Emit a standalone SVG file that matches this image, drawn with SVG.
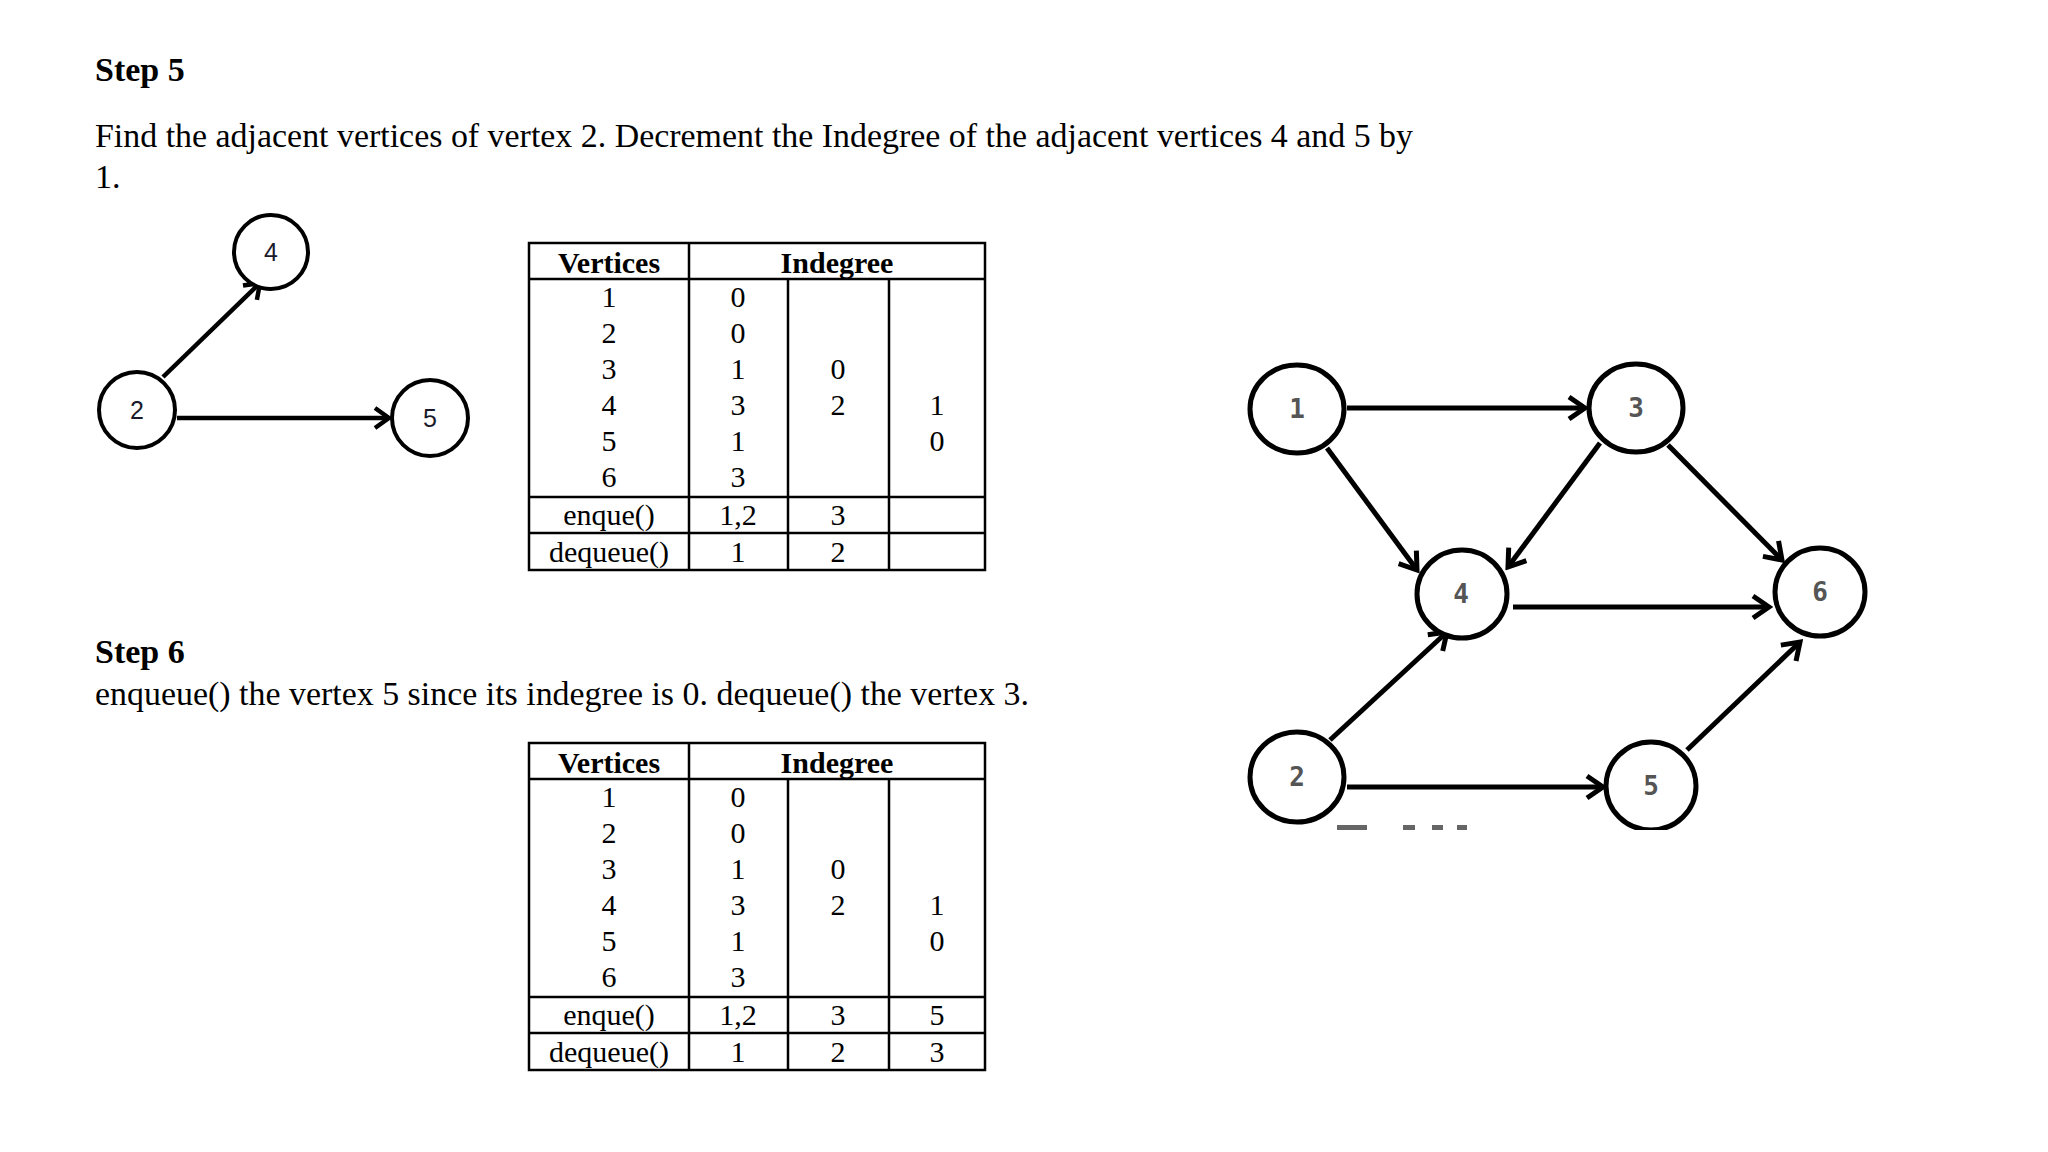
<svg xmlns="http://www.w3.org/2000/svg" width="2048" height="1152" viewBox="0 0 2048 1152">
<style>
.body{font-family:"Liberation Serif","Times New Roman",serif;font-size:34px;fill:#000}
.head{font-family:"Liberation Serif","Times New Roman",serif;font-size:34px;font-weight:bold;fill:#000}
.tt{font-family:"Liberation Serif","Times New Roman",serif;font-size:30px;fill:#000;text-anchor:middle}
.th{font-family:"Liberation Serif","Times New Roman",serif;font-size:30px;font-weight:bold;fill:#000;text-anchor:middle}
.grid{stroke:#000;stroke-width:2.5;fill:none}
.sn{fill:#fff;stroke:#000;stroke-width:4}
.sl{font-family:"Liberation Sans",Arial,sans-serif;font-size:25px;fill:#1a1a2a;text-anchor:middle}
.se{stroke:#000;stroke-width:4.5;fill:none}
.bn{fill:#fff;stroke:#000;stroke-width:5}
.bl{font-family:"DejaVu Sans Mono",monospace;font-size:26px;font-weight:bold;fill:#555;text-anchor:middle}
.be{stroke:#000;stroke-width:5;fill:none}
</style>
<defs>
<marker id="sa" markerUnits="userSpaceOnUse" viewBox="-18 -12 20 24" refX="0" refY="0" markerWidth="20" markerHeight="24" orient="auto">
<path d="M-14,-10 L0,0 L-14,10" fill="none" stroke="#000" stroke-width="4.5" stroke-linejoin="miter"/>
</marker>
<marker id="ba" markerUnits="userSpaceOnUse" viewBox="-20 -14 24 28" refX="0" refY="0" markerWidth="24" markerHeight="28" orient="auto">
<path d="M-16,-11 L0,0 L-16,11" fill="none" stroke="#000" stroke-width="5" stroke-linejoin="miter"/>
</marker>
<clipPath id="bigclip"><rect x="1200" y="330" width="720" height="500"/></clipPath>
</defs>
<rect width="2048" height="1152" fill="#fff"/>

<g id="texts">
<text class="head" x="95" y="81">Step 5</text>
<text class="body" x="95" y="147" textLength="1318" lengthAdjust="spacingAndGlyphs">Find the adjacent vertices of vertex 2. Decrement the Indegree of the adjacent vertices 4 and 5 by</text>
<text class="body" x="95" y="188">1.</text>
<text class="head" x="95" y="663">Step 6</text>
<text class="body" x="95" y="705" textLength="934" lengthAdjust="spacingAndGlyphs">enqueue() the vertex 5 since its indegree is 0. dequeue() the vertex 3.</text>
</g>

<!-- small graph -->
<g id="small-connectors">
<line class="se" x1="163" y1="377" x2="260" y2="283" marker-end="url(#sa)"/>
<line class="se" x1="177" y1="418" x2="389" y2="418" marker-end="url(#sa)"/>
</g>
<g id="s-node-4"><circle class="sn" cx="271" cy="252" r="37"/><text class="sl" x="271" y="261">4</text></g>
<g id="s-node-2"><circle class="sn" cx="137" cy="410" r="38"/><text class="sl" x="137" y="419">2</text></g>
<g id="s-node-5"><circle class="sn" cx="430" cy="418" r="38"/><text class="sl" x="430" y="427">5</text></g>

<!-- table 1 -->
<g id="table-1">
<rect class="grid" x="529" y="243" width="456" height="327"/>
<line class="grid" x1="529" y1="279" x2="985" y2="279"/>
<line class="grid" x1="529" y1="497" x2="985" y2="497"/>
<line class="grid" x1="529" y1="533" x2="985" y2="533"/>
<line class="grid" x1="689" y1="243" x2="689" y2="570"/>
<line class="grid" x1="788" y1="279" x2="788" y2="570"/>
<line class="grid" x1="889" y1="279" x2="889" y2="570"/>
<text class="th" x="609" y="273">Vertices</text>
<text class="th" x="837" y="273">Indegree</text>
<text class="tt" x="609" y="307">1</text><text class="tt" x="738" y="307">0</text>
<text class="tt" x="609" y="343">2</text><text class="tt" x="738" y="343">0</text>
<text class="tt" x="609" y="379">3</text><text class="tt" x="738" y="379">1</text><text class="tt" x="838" y="379">0</text>
<text class="tt" x="609" y="415">4</text><text class="tt" x="738" y="415">3</text><text class="tt" x="838" y="415">2</text><text class="tt" x="937" y="415">1</text>
<text class="tt" x="609" y="451">5</text><text class="tt" x="738" y="451">1</text><text class="tt" x="937" y="451">0</text>
<text class="tt" x="609" y="487">6</text><text class="tt" x="738" y="487">3</text>
<text class="tt" x="609" y="525">enque()</text><text class="tt" x="738" y="525">1,2</text><text class="tt" x="838" y="525">3</text>
<text class="tt" x="609" y="562">dequeue()</text><text class="tt" x="738" y="562">1</text><text class="tt" x="838" y="562">2</text>
</g>

<!-- table 2 -->
<g id="table-2">
<rect class="grid" x="529" y="743" width="456" height="327"/>
<line class="grid" x1="529" y1="779" x2="985" y2="779"/>
<line class="grid" x1="529" y1="997" x2="985" y2="997"/>
<line class="grid" x1="529" y1="1033" x2="985" y2="1033"/>
<line class="grid" x1="689" y1="743" x2="689" y2="1070"/>
<line class="grid" x1="788" y1="779" x2="788" y2="1070"/>
<line class="grid" x1="889" y1="779" x2="889" y2="1070"/>
<text class="th" x="609" y="773">Vertices</text>
<text class="th" x="837" y="773">Indegree</text>
<text class="tt" x="609" y="807">1</text><text class="tt" x="738" y="807">0</text>
<text class="tt" x="609" y="843">2</text><text class="tt" x="738" y="843">0</text>
<text class="tt" x="609" y="879">3</text><text class="tt" x="738" y="879">1</text><text class="tt" x="838" y="879">0</text>
<text class="tt" x="609" y="915">4</text><text class="tt" x="738" y="915">3</text><text class="tt" x="838" y="915">2</text><text class="tt" x="937" y="915">1</text>
<text class="tt" x="609" y="951">5</text><text class="tt" x="738" y="951">1</text><text class="tt" x="937" y="951">0</text>
<text class="tt" x="609" y="987">6</text><text class="tt" x="738" y="987">3</text>
<text class="tt" x="609" y="1025">enque()</text><text class="tt" x="738" y="1025">1,2</text><text class="tt" x="838" y="1025">3</text><text class="tt" x="937" y="1025">5</text>
<text class="tt" x="609" y="1062">dequeue()</text><text class="tt" x="738" y="1062">1</text><text class="tt" x="838" y="1062">2</text><text class="tt" x="937" y="1062">3</text>
</g>

<!-- big graph -->
<g id="big-graph" clip-path="url(#bigclip)">
<g id="big-connectors">
<line class="be" x1="1347" y1="408" x2="1585" y2="408" marker-end="url(#ba)"/>
<line class="be" x1="1327" y1="448" x2="1417" y2="570" marker-end="url(#ba)"/>
<line class="be" x1="1600" y1="443" x2="1508" y2="567" marker-end="url(#ba)"/>
<line class="be" x1="1668" y1="445" x2="1782" y2="560" marker-end="url(#ba)"/>
<line class="be" x1="1513" y1="607" x2="1769" y2="607" marker-end="url(#ba)"/>
<line class="be" x1="1330" y1="740" x2="1447" y2="632" marker-end="url(#ba)"/>
<line class="be" x1="1347" y1="787" x2="1603" y2="787" marker-end="url(#ba)"/>
<line class="be" x1="1687" y1="750" x2="1800" y2="642" marker-end="url(#ba)"/>
</g>
<g id="b-node-1"><ellipse class="bn" cx="1297" cy="409" rx="47" ry="44"/><text class="bl" x="1297" y="418">1</text></g>
<g id="b-node-3"><ellipse class="bn" cx="1636" cy="408" rx="47" ry="44"/><text class="bl" x="1636" y="417">3</text></g>
<g id="b-node-4"><ellipse class="bn" cx="1462" cy="594" rx="45" ry="44"/><text class="bl" x="1461" y="603">4</text></g>
<g id="b-node-6"><ellipse class="bn" cx="1820" cy="592" rx="45" ry="44"/><text class="bl" x="1820" y="601">6</text></g>
<g id="b-node-2"><ellipse class="bn" cx="1297" cy="777" rx="47" ry="45"/><text class="bl" x="1297" y="786">2</text></g>
<g id="b-node-5"><ellipse class="bn" cx="1651" cy="786" rx="45" ry="44"/><text class="bl" x="1651" y="795">5</text></g>
<g id="caption-fragments" fill="#666">
<rect x="1337" y="825" width="30" height="5"/>
<rect x="1403" y="825" width="12" height="5"/>
<rect x="1432" y="825" width="11" height="5"/>
<rect x="1457" y="825" width="10" height="5"/>
</g>
</g>
</svg>
